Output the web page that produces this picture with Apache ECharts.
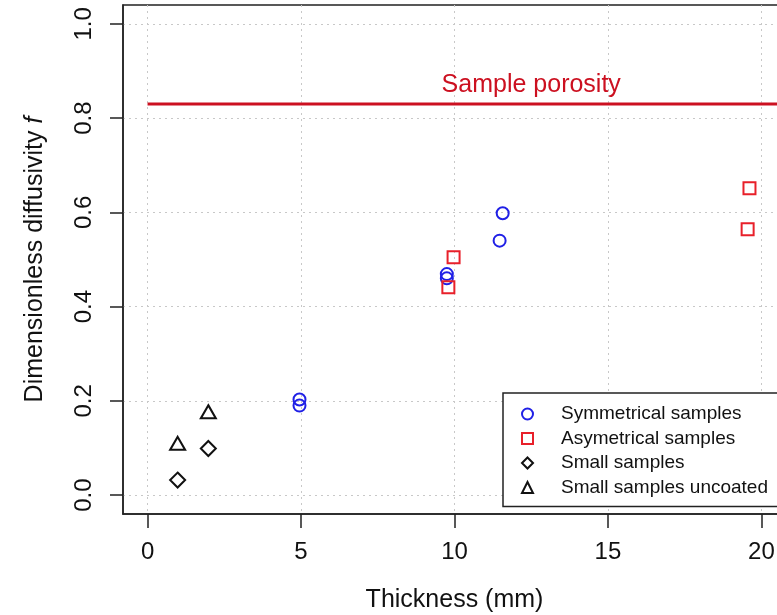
<!DOCTYPE html>
<html>
<head>
<meta charset="utf-8">
<script src="https://cdn.jsdelivr.net/npm/echarts@6/dist/echarts.min.js"></script>
<style>
  html, body { margin: 0; padding: 0; background: #fff; }
  #main { width: 777px; height: 615px; }
</style>
</head>
<body>
<div id="main"></div>
<script>
// data
var symX = [4.95, 4.95, 9.75, 9.75, 11.47, 11.57];
var symY = [0.203, 0.190, 0.469, 0.460, 0.540, 0.598];
var asymX = [9.8, 9.97, 19.55, 19.61];
var asymY = [0.441, 0.505, 0.564, 0.651];
var smallX = [0.98, 1.98];
var smallY = [0.032, 0.099];
var uncoatedX = [0.98, 1.98];
var uncoatedY = [0.110, 0.177];
var porosity = 0.83;
var porosityX = [0, 21];
var xTicks = [0, 5, 10, 15, 20];
var yTicks = [0, 0.2, 0.4, 0.6, 0.8, 1.0];
var names = ['Symmetrical samples', 'Asymetrical samples', 'Small samples', 'Small samples uncoated'];

function pairs(xs, ys) {
  return xs.map(function (x, i) { return [x, ys[i]]; });
}

var font = 'Liberation Sans, Arial, Helvetica, sans-serif';
var myChart = echarts.init(document.getElementById('main'));

function openStyle(c) {
  return { color: 'rgba(0,0,0,0)', borderColor: c, borderWidth: 2, opacity: 1 };
}

var option = {
  animation: false,
  backgroundColor: '#fff',
  textStyle: { fontFamily: font },
  grid: {
    left: 123, top: 5, width: 663, height: 509,
    show: true, borderColor: '#222', borderWidth: 1.5,
    backgroundColor: '#fff',
    outerBoundsMode: 'none'
  },
  legend: {
    orient: 'vertical',
    left: 503, top: 393,
    padding: [11, 20, 9, 18],
    itemGap: 4.5,
    itemWidth: 11, itemHeight: 11,
    borderColor: '#222', borderWidth: 1.5,
    backgroundColor: '#fff',
    itemStyle: { borderWidth: 2 },
    formatter: '{t|{name}}',
    textStyle: {
      fontFamily: font, fontSize: 19, color: '#111', lineHeight: 20,
      rich: { t: { fontFamily: font, fontSize: 19, color: '#111', lineHeight: 20, padding: [0, 0, 0, 23] } }
    },
    data: names
  },
  xAxis: {
    type: 'value',
    min: -0.8, max: 20.8,
    name: 'Thickness (mm)',
    nameLocation: 'middle',
    nameGap: 74,
    nameTextStyle: { fontFamily: font, fontSize: 25, color: '#111' },
    axisLine: { show: true, onZero: false, lineStyle: { color: '#222', width: 1.5 } },
    axisTick: { show: true, inside: false, length: 14, customValues: xTicks, lineStyle: { color: '#222', width: 1.5 } },
    axisLabel: { customValues: xTicks, margin: 26, fontFamily: font, fontSize: 24, color: '#111' },
    splitLine: { show: true, lineStyle: { color: '#c8c8c8', type: [2, 4], width: 1 } }
  },
  yAxis: {
    type: 'value',
    min: -0.04, max: 1.04,
    name: '{a|Dimensionless diffusivity }{b|f}',
    nameLocation: 'middle',
    nameGap: 75,
    nameTextStyle: {
      fontFamily: font, fontSize: 25, color: '#111',
      rich: {
        a: { fontFamily: font, fontSize: 25, color: '#111' },
        b: { fontFamily: font, fontSize: 25, color: '#111', fontStyle: 'italic' }
      }
    },
    axisLine: { show: true, onZero: false, lineStyle: { color: '#222', width: 1.5 } },
    axisTick: { show: true, inside: false, length: 13, customValues: yTicks, lineStyle: { color: '#222', width: 1.5 } },
    axisLabel: {
      customValues: yTicks, rotate: 90, margin: 27,
      fontFamily: font, fontSize: 24, color: '#111',
      formatter: function (v) { return v.toFixed(1); }
    },
    splitLine: { show: true, lineStyle: { color: '#c8c8c8', type: [2, 4], width: 1 } }
  },
  series: [
    {
      name: 'Sample porosity',
      type: 'line',
      data: porosityX.map(function (x) { return [x, porosity]; }),
      symbol: 'none',
      clip: true,
      lineStyle: { color: '#cc1020', width: 3 },
      itemStyle: { color: '#cc1020' },
      markPoint: {
        symbol: 'circle', symbolSize: 0,
        label: {
          show: true, position: 'top', distance: 6,
          formatter: 'Sample porosity',
          fontFamily: font, fontSize: 25, color: '#cc1020'
        },
        data: [{ coord: [12.5, porosity] }]
      },
      z: 1
    },
    {
      name: names[0], type: 'scatter', symbol: 'circle', symbolSize: 12,
      itemStyle: openStyle('#2020e6'), data: pairs(symX, symY), z: 3
    },
    {
      name: names[1], type: 'scatter', symbol: 'rect', symbolSize: 12,
      itemStyle: openStyle('#e8202a'), data: pairs(asymX, asymY), z: 3
    },
    {
      name: names[2], type: 'scatter', symbol: 'diamond', symbolSize: 15,
      itemStyle: openStyle('#111'), data: pairs(smallX, smallY), z: 3
    },
    {
      name: names[3], type: 'scatter', symbol: 'triangle', symbolSize: [15, 13],
      itemStyle: openStyle('#111'), data: pairs(uncoatedX, uncoatedY), z: 3
    }
  ]
};
myChart.setOption(option);
</script>
</body>
</html>
